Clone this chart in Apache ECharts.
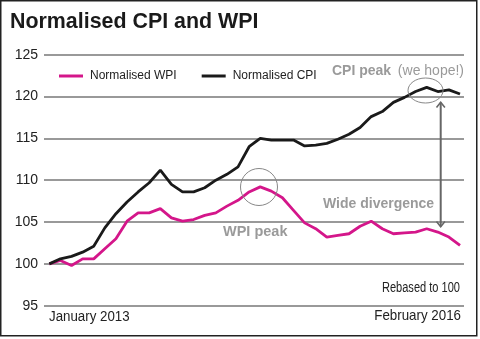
<!DOCTYPE html>
<html><head><meta charset="utf-8">
<script src="https://cdn.jsdelivr.net/npm/echarts@6/dist/echarts.min.js"></script>
<style>html,body{margin:0;padding:0;background:#fff}#c{width:480px;height:339px}</style>
</head><body><div id="c"></div>
<script>
const months = ['Jan 2013','Feb 2013','Mar 2013','Apr 2013','May 2013','Jun 2013','Jul 2013','Aug 2013','Sep 2013','Oct 2013','Nov 2013','Dec 2013',
  'Jan 2014','Feb 2014','Mar 2014','Apr 2014','May 2014','Jun 2014','Jul 2014','Aug 2014','Sep 2014','Oct 2014','Nov 2014','Dec 2014',
  'Jan 2015','Feb 2015','Mar 2015','Apr 2015','May 2015','Jun 2015','Jul 2015','Aug 2015','Sep 2015','Oct 2015','Nov 2015','Dec 2015',
  'Jan 2016','Feb 2016'];
const cpi = [100.0,100.6,100.9,101.4,102.1,104.3,106.0,107.4,108.6,109.7,111.2,109.5,
  108.6,108.6,109.1,110.0,110.7,111.6,114.0,115.0,114.8,114.8,114.8,114.1,
  114.2,114.4,114.9,115.5,116.3,117.6,118.2,119.3,119.9,120.6,121.1,120.6,
  120.8,120.3];
const wpi = [100.0,100.4,99.8,100.6,100.6,101.8,103.0,105.1,106.1,106.1,106.6,105.5,
  105.1,105.3,105.8,106.1,106.9,107.6,108.6,109.2,108.7,107.9,106.4,104.9,
  104.2,103.2,103.4,103.6,104.5,105.1,104.2,103.6,103.7,103.8,104.2,103.8,
  103.2,102.2];
const seriesNames = ['Normalised WPI','Normalised CPI'];
const yMin = 95, yMax = 125, yStep = 5;
const startLabel = 'January 2013', endLabel = 'February 2016';

const SANS = "'Liberation Sans', Arial, sans-serif";
const GRAY = '#9a9a9a';
const DARK = '#222';

function scaledText(text, x, y, scale, align, font, fill){
  return {type:'text', x:x, y:y, scaleX:scale, silent:true,
    style:{text:text, x:0, y:0, font:font, fill:fill, align:align, verticalAlign:'middle'}};
}

const chart = echarts.init(document.getElementById('c'), null, {renderer:'canvas'});
chart.setOption({
  animation:false,
  backgroundColor:'#fff',
  title:{text:'Normalised CPI and WPI', left:10, top:12, padding:0,
    textStyle:{fontSize:21.4, fontWeight:'bold', fontFamily:SANS, color:'#1a1a1a'}},
  legend:{data:seriesNames, left:59, top:70, padding:0, icon:'rect', itemWidth:24, itemHeight:3, itemGap:25,
    textStyle:{fontSize:12, fontFamily:SANS, color:DARK, padding:[0,0,0,2]}},
  grid:{left:44, right:16, top:54.7, bottom:33.3},
  xAxis:{type:'value', min:-0.48, max:37.36, show:false},
  yAxis:{type:'value', min:yMin, max:yMax, interval:yStep,
    axisLine:{show:false}, axisTick:{show:false},
    splitLine:{lineStyle:{color:'#777', width:1.5}},
    axisLabel:{margin:6, fontSize:14, color:DARK, fontFamily:SANS}},
  series:[
    {name:seriesNames[0], type:'line', showSymbol:false, color:'#d4168a',
     lineStyle:{width:2.8, color:'#d4168a'}, data:wpi.map((v,i)=>[i,v]), z:3},
    {name:seriesNames[1], type:'line', showSymbol:false, color:'#1a1a1a',
     lineStyle:{width:2.8, color:'#1a1a1a'}, data:cpi.map((v,i)=>[i,v]), z:4}
  ],
  graphic:[
    {type:'rect', shape:{x:0.75,y:0.75,width:476,height:335}, style:{fill:'none', stroke:'#222', lineWidth:1.5}, silent:true},
    {type:'text', style:{text:'CPI peak', x:332, y:71, font:'bold 14px '+SANS, fill:GRAY, verticalAlign:'middle'}},
    {type:'text', style:{text:'(we hope!)', x:464, y:71, font:'14px '+SANS, fill:GRAY, align:'right', verticalAlign:'middle'}},
    {type:'text', style:{text:'WPI peak', x:223, y:232, font:'bold 14.5px '+SANS, fill:GRAY, verticalAlign:'middle'}},
    {type:'text', style:{text:'Wide divergence', x:323, y:204, font:'bold 14px '+SANS, fill:GRAY, verticalAlign:'middle'}},
    scaledText('Rebased to 100', 460, 288, 0.79, 'right', '14px '+SANS, DARK),
    scaledText(startLabel, 49, 317, 0.95, 'left', '14px '+SANS, DARK),
    scaledText(endLabel, 461, 316, 0.92, 'right', '14.5px '+SANS, DARK),
    {type:'ellipse', shape:{cx:425.5, cy:90.5, rx:17.5, ry:12.5}, style:{fill:'none', stroke:'#888', lineWidth:1}, z:10},
    {type:'circle', shape:{cx:259, cy:187, r:18.5}, style:{fill:'none', stroke:'#888', lineWidth:1}, z:10},
    {type:'line', shape:{x1:440.7, y1:102.5, x2:440.7, y2:226.5}, style:{stroke:'#666', lineWidth:2}, z:10},
    {type:'polyline', shape:{points:[[436.5,107.5],[440.7,102.3],[444.9,107.5]]}, style:{fill:'none', stroke:'#666', lineWidth:1.6}, z:10},
    {type:'polyline', shape:{points:[[436.5,221.5],[440.7,226.7],[444.9,221.5]]}, style:{fill:'none', stroke:'#666', lineWidth:1.6}, z:10}
  ]
});
</script></body></html>
